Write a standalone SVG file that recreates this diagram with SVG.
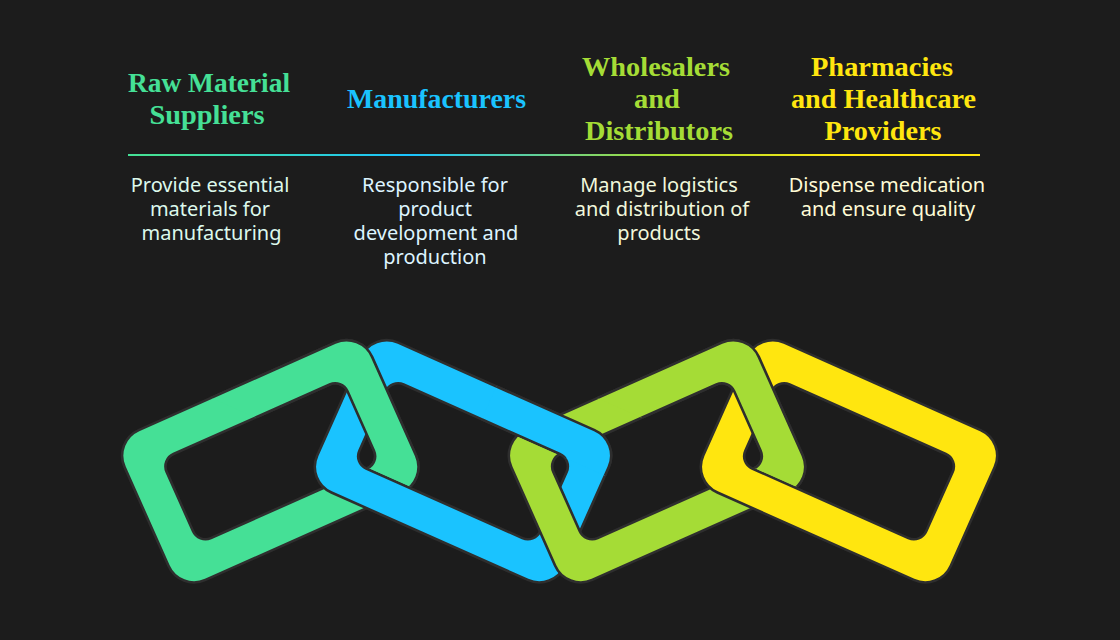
<svg xmlns="http://www.w3.org/2000/svg" xmlns:xlink="http://www.w3.org/1999/xlink" width="1120" height="640" viewBox="0 0 1120 640">
<style>
.h{font-family:"Liberation Serif","Noto Serif",serif;font-weight:700;font-size:28px;text-anchor:middle}
.b{font-family:"Noto Sans","Open Sans",sans-serif;font-size:20px;text-anchor:middle}
.link{stroke:#2e2e2e;stroke-width:2.6;stroke-linejoin:round;fill-rule:evenodd}
</style>
<defs>
<linearGradient id="rule" gradientUnits="userSpaceOnUse" x1="128" y1="0" x2="980" y2="0">
<stop offset="0.05" stop-color="#45E096"/><stop offset="0.33" stop-color="#1AC3FF"/><stop offset="0.62" stop-color="#A5DC36"/><stop offset="0.84" stop-color="#FFE60F"/>
</linearGradient>
<path id="shape" d="M-107.5-82H107.5A28 28 0 0 1 135.5-54V54A28 28 0 0 1 107.5 82H-107.5A28 28 0 0 1-135.5 54V-54A28 28 0 0 1-107.5-82ZM-85.5-46A13.5 13.5 0 0 0-99-32.5V32.5A13.5 13.5 0 0 0-85.5 46H85.5A13.5 13.5 0 0 0 99 32.5V-32.5A13.5 13.5 0 0 0 85.5-46Z"/>
<clipPath id="c1"><rect x="-500" y="-500" width="1000" height="544.5" transform="translate(463 461.3) rotate(24)"/></clipPath>
<clipPath id="c2"><rect x="0" y="-300" width="300" height="255.5" transform="translate(463 461.3) rotate(24)" /></clipPath>
<clipPath id="c3"><rect x="-500" y="-500" width="1000" height="544.5" transform="translate(849 461.3) rotate(24)"/></clipPath>
</defs>
<rect width="1120" height="640" fill="#1C1C1C"/>
<g id="connectors">
<rect x="128" y="154" width="852" height="2" fill="url(#rule)"/>
</g>
<g id="node-raw-material">
<text class="h" fill="#45E096" x="209" y="92" textLength="162" lengthAdjust="spacingAndGlyphs">Raw Material</text>
<text class="h" fill="#45E096" x="207" y="124" textLength="115" lengthAdjust="spacingAndGlyphs">Suppliers</text>
<g fill="#DCF9EC">
<text class="b" x="210" y="192">Provide essential</text>
<text class="b" x="210" y="216">materials for</text>
<text class="b" x="211.5" y="240">manufacturing</text>
</g>
</g>
<g id="node-manufacturers">
<text class="h" fill="#1AC3FF" x="436.5" y="108" textLength="179" lengthAdjust="spacingAndGlyphs">Manufacturers</text>
<g fill="#DDF4FF">
<text class="b" x="435" y="192">Responsible for</text>
<text class="b" x="435" y="216">product</text>
<text class="b" x="436" y="240">development and</text>
<text class="b" x="435" y="264">production</text>
</g>
</g>
<g id="node-wholesalers">
<text class="h" fill="#A5DC36" x="656" y="76" textLength="148" lengthAdjust="spacingAndGlyphs">Wholesalers</text>
<text class="h" fill="#A5DC36" x="657" y="108" textLength="46" lengthAdjust="spacingAndGlyphs">and</text>
<text class="h" fill="#A5DC36" x="659" y="140" textLength="148" lengthAdjust="spacingAndGlyphs">Distributors</text>
<g fill="#F1F8DC">
<text class="b" x="659" y="192">Manage logistics</text>
<text class="b" x="662" y="216">and distribution of</text>
<text class="b" x="659" y="240">products</text>
</g>
</g>
<g id="node-pharmacies">
<text class="h" fill="#FFE60F" x="882" y="76" textLength="142" lengthAdjust="spacingAndGlyphs">Pharmacies</text>
<text class="h" fill="#FFE60F" x="883.5" y="108" textLength="185" lengthAdjust="spacingAndGlyphs">and Healthcare</text>
<text class="h" fill="#FFE60F" x="883" y="140" textLength="117" lengthAdjust="spacingAndGlyphs">Providers</text>
<g fill="#FFFBD6">
<text class="b" x="887" y="192">Dispense medication</text>
<text class="b" x="888" y="216">and ensure quality</text>
</g>
</g>
<g id="chain">
<use id="link-green" xlink:href="#shape" href="#shape" class="link" fill="#45E096" transform="translate(270.3 461.3) rotate(-24)"/>
<use id="link-blue" xlink:href="#shape" href="#shape" class="link" fill="#1AC3FF" transform="translate(463 461.3) rotate(24)"/>
<g clip-path="url(#c1)"><use xlink:href="#shape" href="#shape" class="link" fill="#45E096" transform="translate(270.3 461.3) rotate(-24)"/></g>
<use id="link-lime" xlink:href="#shape" href="#shape" class="link" fill="#A5DC36" transform="translate(657 461.3) rotate(-24)"/>
<g clip-path="url(#c2)"><use xlink:href="#shape" href="#shape" class="link" fill="#1AC3FF" transform="translate(463 461.3) rotate(24)"/></g>
<use id="link-yellow" xlink:href="#shape" href="#shape" class="link" fill="#FFE60F" transform="translate(849 461.3) rotate(24)"/>
<g clip-path="url(#c3)"><use xlink:href="#shape" href="#shape" class="link" fill="#A5DC36" transform="translate(657 461.3) rotate(-24)"/></g>
</g>
</svg>
